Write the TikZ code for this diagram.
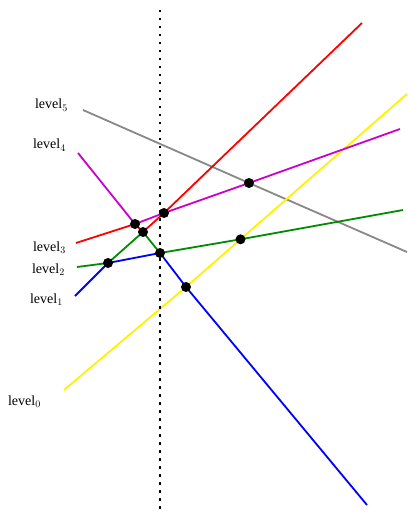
\documentclass[tikz,border=0pt]{standalone}
\usepackage{fontspec}
\setmainfont{Liberation Serif}
\usetikzlibrary{positioning}
\definecolor{lvmag}{RGB}{204,0,204}
\definecolor{lvgrn}{RGB}{0,140,0}
\definecolor{lvgry}{RGB}{136,136,136}

\begin{document}
\begin{tikzpicture}[x=1pt, y=-1pt,
  seg/.style={line width=1.8pt},
  vx/.style={circle, fill=black, inner sep=0pt, minimum size=10pt},
  lbl/.style={anchor=base east, inner sep=0pt, font=\fontsize{14}{16}\selectfont},
  sweep/.style={line width=1.9pt, dash pattern=on 2.5pt off 5.5pt}]

\useasboundingbox (0,0) rectangle (407,513);

% free ends of the lines
\coordinate (red0) at (76,243);
\coordinate (red1) at (362,23);
\coordinate (mag0) at (78,153);
\coordinate (mag1) at (400,129);
\coordinate (grn0) at (77,267);
\coordinate (grn1) at (403,210);
\coordinate (blu0) at (75,296);
\coordinate (blu1) at (367,505);
\coordinate (yel0) at (64,390);
\coordinate (yel1) at (407,94);
\coordinate (gry0) at (83,110);
\coordinate (gry1) at (407,252);
\coordinate (top) at (160,10);
\coordinate (bot) at (160,513);

% vertices
\coordinate (a) at (135,224);
\coordinate (b) at (143,232);
\coordinate (c) at (164,213);
\coordinate (d) at (108,263);
\coordinate (e) at (160,253);
\coordinate (f) at (240.5,239.3);
\coordinate (g) at (186,287);
\coordinate (h) at (249,183);

\draw[seg, lvgry] (gry0) -- (h) -- (gry1);
\draw[seg, yellow] (yel0) -- (g) -- (f) -- (yel1);
\draw[seg, blue] (blu0) -- (d) -- (e) -- (g) -- (blu1);
\draw[seg, lvgrn] (grn0) -- (d) -- (b) -- (e) -- (f) -- (grn1);
\draw[seg, lvmag] (mag0) -- (a) -- (c) -- (h) -- (mag1);
\draw[seg, red] (red0) -- (a) -- (b) -- (c) -- (red1);

\draw[sweep] (top) -- (bot);

\foreach \v in {a,b,c,d,e,f,g,h}
  \node[vx] (dot-\v) at (\v) {};

\node[lbl] (lev5) at (68,109) {level$_5$};
\node[lbl] (lev4) at (66,149) {level$_4$};
\node[lbl] (lev3) at (66,251) {level$_3$};
\node[lbl] (lev2) at (65,273) {level$_2$};
\node[lbl] (lev1) at (63,303) {level$_1$};
\node[lbl] (lev0) at (41,405) {level$_0$};

\end{tikzpicture}
\end{document}
